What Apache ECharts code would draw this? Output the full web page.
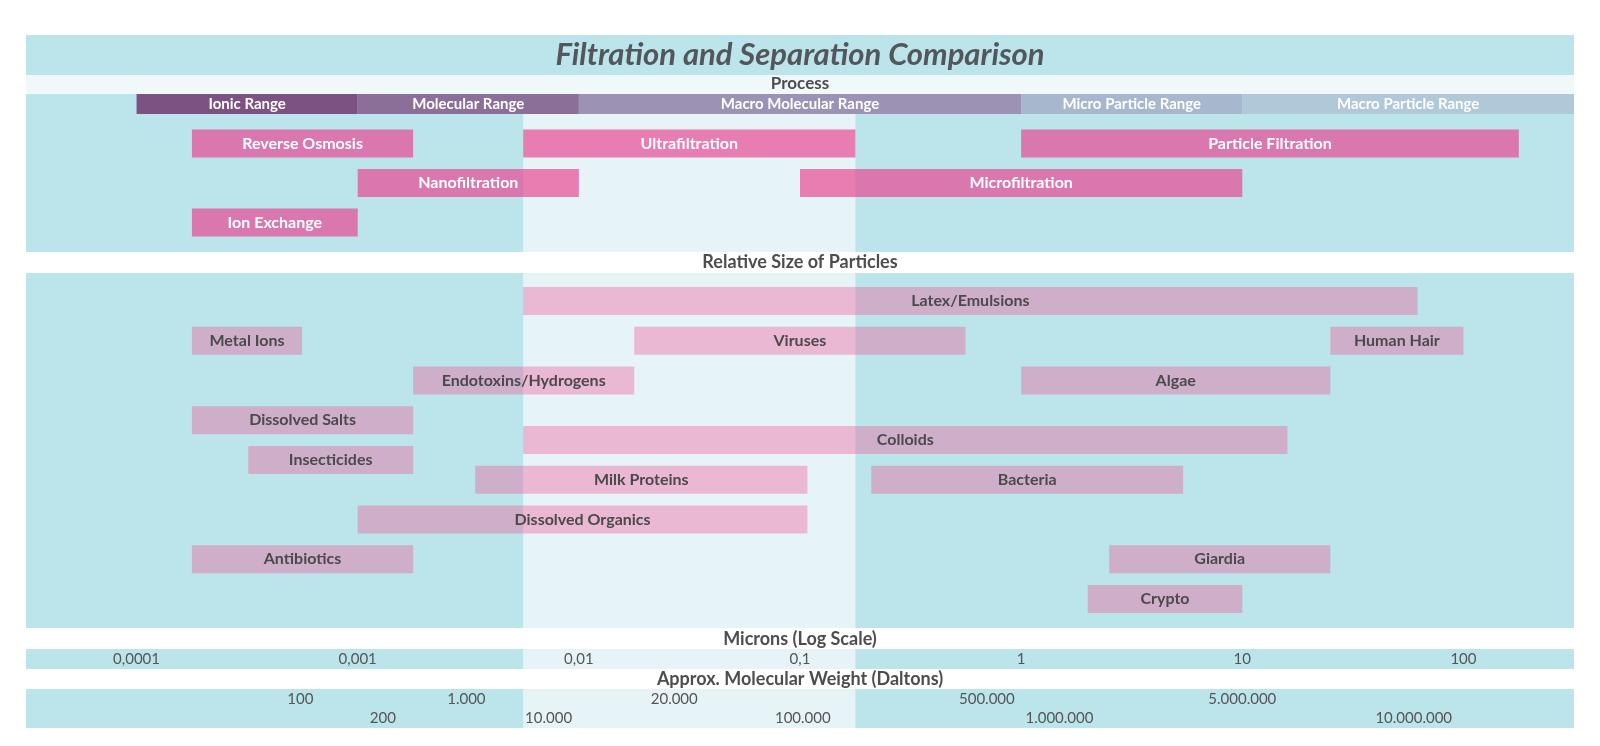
<!DOCTYPE html>
<html><head><meta charset="utf-8">
<script src="https://cdn.jsdelivr.net/npm/echarts@6/dist/echarts.min.js"></script>
<style>html,body{margin:0;padding:0;background:#fff}#c{width:1600px;height:746px}</style>
</head><body><div id="c"></div>
<script>
// ---- data (microns) ----
const rangeNames = ['Ionic Range','Molecular Range','Macro Molecular Range','Micro Particle Range','Macro Particle Range'];
const rangeStart = [0.0001, 0.001, 0.01, 1, 10];
const rangeEnd   = [0.001, 0.01, 1, 10, 316];

const processNames = ['Reverse Osmosis','Ultrafiltration','Particle Filtration','Nanofiltration','Microfiltration','Ion Exchange'];
const processStart = [0.000178, 0.0056, 1, 0.001, 0.1, 0.000178];
const processEnd   = [0.00178, 0.178, 178, 0.01, 10, 0.001];
const processRow   = [1, 1, 1, 2, 2, 3];

const particleNames = ['Latex/Emulsions','Metal Ions','Viruses','Human Hair','Endotoxins/Hydrogens','Algae','Dissolved Salts','Colloids','Insecticides','Milk Proteins','Bacteria','Dissolved Organics','Antibiotics','Giardia','Crypto'];
const particleStart = [0.0056, 0.000178, 0.0178, 25, 0.00178, 1, 0.000178, 0.0056, 0.00032, 0.0034, 0.21, 0.001, 0.000178, 2.5, 2];
const particleEnd   = [62, 0.00056, 0.56, 100, 0.0178, 25, 0.00178, 16, 0.00178, 0.108, 5.4, 0.108, 0.00178, 25, 10];
const particleRow   = [0, 2, 2, 2, 4, 4, 6, 7, 8, 9, 9, 11, 13, 13, 15];

const micronTickLabels = ['0,0001','0,001','0,01','0,1','1','10','100'];
const daltonLabels  = ['100','200','1.000','10.000','20.000','100.000','500.000','1.000.000','5.000.000','10.000.000'];
const daltonMicrons = [0.00055, 0.0013, 0.0031, 0.0073, 0.027, 0.103, 0.70, 1.49, 10, 59.6];

const bandRange = [0.0056, 0.178];

// ---- styles ----
const TEAL = '#BCE4EB', BAND = '#E7F4F7';
const rangeColors = ['#7C5283','#8B6F98','#9C93B4','#A7B7CE','#B0C8D8'];
const PROC_FILL = 'rgba(233,66,143,0.67)';
const PART_FILL = 'rgba(240,86,151,0.38)';
const FONT = 'Lato, "Open Sans", sans-serif';
const XMIN = Math.pow(10, -4.5), XMAX = Math.pow(10, 2.5);
const L = 26, W = 1548;

const chart = echarts.init(document.getElementById('c'), null, {renderer: 'canvas'});

function bandSeries(gi, topRow) {
  return {
    type: 'custom', xAxisIndex: gi, yAxisIndex: gi, z: 1, silent: true,
    encode: {x: [0, 1]},
    data: [[bandRange[0], bandRange[1]]],
    renderItem: function (params, api) {
      const cs = params.coordSys;
      const a = api.coord([api.value(0), 0]);
      const b = api.coord([api.value(1), 0]);
      const top = topRow == null ? cs.y : api.coord([api.value(0), topRow])[1];
      return {type: 'rect', shape: {x: a[0], y: top, width: b[0] - a[0], height: cs.y + cs.height - top}, style: {fill: BAND}};
    }
  };
}

function barSeries(gi, data, h, fillFn, textColor, fontSize) {
  return {
    type: 'custom', xAxisIndex: gi, yAxisIndex: gi, z: 3, silent: true,
    encode: {x: [0, 1], y: 2},
    data: data,
    renderItem: function (params, api) {
      const a = api.coord([api.value(0), api.value(2)]);
      const b = api.coord([api.value(1), api.value(2)]);
      return {
        type: 'rect',
        shape: {x: a[0], y: a[1] - h / 2, width: b[0] - a[0], height: h},
        style: {fill: fillFn(params.dataIndex)},
        textContent: {style: {text: data[params.dataIndex][3], fill: textColor, fontSize: fontSize, fontWeight: 'bold', fontFamily: FONT}},
        textConfig: {position: 'inside'}
      };
    }
  };
}

const rangeData = rangeNames.map((n, i) => [rangeStart[i], rangeEnd[i], 0, n]);
const processData = processNames.map((n, i) => [processStart[i], processEnd[i], processRow[i], n]);
const particleData = particleNames.map((n, i) => [particleStart[i], particleEnd[i], particleRow[i], n]);
const daltonData = daltonLabels.map((n, i) => [daltonMicrons[i], i % 2, n]);

function xAx(gi, extra) {
  return Object.assign({type: 'log', logBase: 10, gridIndex: gi, min: XMIN, max: XMAX, show: false}, extra || {});
}
function yAx(gi, min, max) {
  return {type: 'value', gridIndex: gi, inverse: true, min: min, max: max, show: false};
}

function header(text, y, size, extra) {
  return {type: 'text', silent: true, z: 20, x: 800, y: y,
    style: Object.assign({text: text, fill: '#4D4D4D', fontSize: size, fontWeight: 'bold', fontFamily: FONT, textAlign: 'center', textVerticalAlign: 'middle'}, extra || {})};
}

const option = {
  animation: false,
  backgroundColor: '#ffffff',
  grid: [
    {left: L, width: W, top: 94, height: 158, show: true, backgroundColor: TEAL, borderWidth: 0},
    {left: L, width: W, top: 273, height: 355, show: true, backgroundColor: TEAL, borderWidth: 0},
    {left: L, width: W, top: 649, height: 20, show: true, backgroundColor: TEAL, borderWidth: 0},
    {left: L, width: W, top: 689, height: 39, show: true, backgroundColor: TEAL, borderWidth: 0}
  ],
  xAxis: [
    xAx(0), xAx(1),
    xAx(2, {show: true, z: 10, position: 'top', axisLine: {show: false}, axisTick: {show: false}, splitLine: {show: false},
      axisLabel: {inside: true, margin: 3, color: '#555', fontSize: 15, fontFamily: FONT,
        formatter: function (v) {
          const lg = Math.log10(v), e = Math.round(lg);
          if (Math.abs(lg - e) > 1e-6) return '';
          const s = micronTickLabels[e + 4];
          return s == null ? '' : s;
        }}}),
    xAx(3)
  ],
  yAxis: [yAx(0, -0.25, 3.75), yAx(1, -1.41, 16.46), yAx(2, 0, 1), yAx(3, -0.5, 1.5)],
  graphic: [
    {type: 'rect', silent: true, shape: {x: L, y: 35, width: W, height: 40}, style: {fill: TEAL}},
    {type: 'rect', silent: true, shape: {x: L, y: 75, width: W, height: 19}, style: {fill: '#F0F8FA'}},
    header('Filtration and Separation Comparison', 55, 31, {fill: '#53575B', fontStyle: 'italic'}),
    header('Process', 84, 17),
    header('Relative Size of Particles', 262, 18),
    header('Microns (Log Scale)', 639, 18),
    header('Approx. Molecular Weight (Daltons)', 679, 18)
  ],
  series: [
    bandSeries(0, 0.25), bandSeries(1), bandSeries(2), bandSeries(3),
    barSeries(0, rangeData, 20, i => rangeColors[i], '#FFFFFF', 15),
    barSeries(0, processData, 28, () => PROC_FILL, '#FFFFFF', 16),
    barSeries(1, particleData, 28, () => PART_FILL, '#4A4A4A', 16),
    {
      type: 'custom', xAxisIndex: 3, yAxisIndex: 3, z: 3, silent: true,
      encode: {x: 0, y: 1},
      data: daltonData,
      renderItem: function (params, api) {
        const p = api.coord([api.value(0), api.value(1)]);
        return {type: 'text', x: p[0], y: p[1], style: {text: daltonData[params.dataIndex][2], fill: '#555', fontSize: 15, fontFamily: FONT, textAlign: 'center', textVerticalAlign: 'middle'}};
      }
    }
  ]
};
chart.setOption(option);
</script>
</body></html>
